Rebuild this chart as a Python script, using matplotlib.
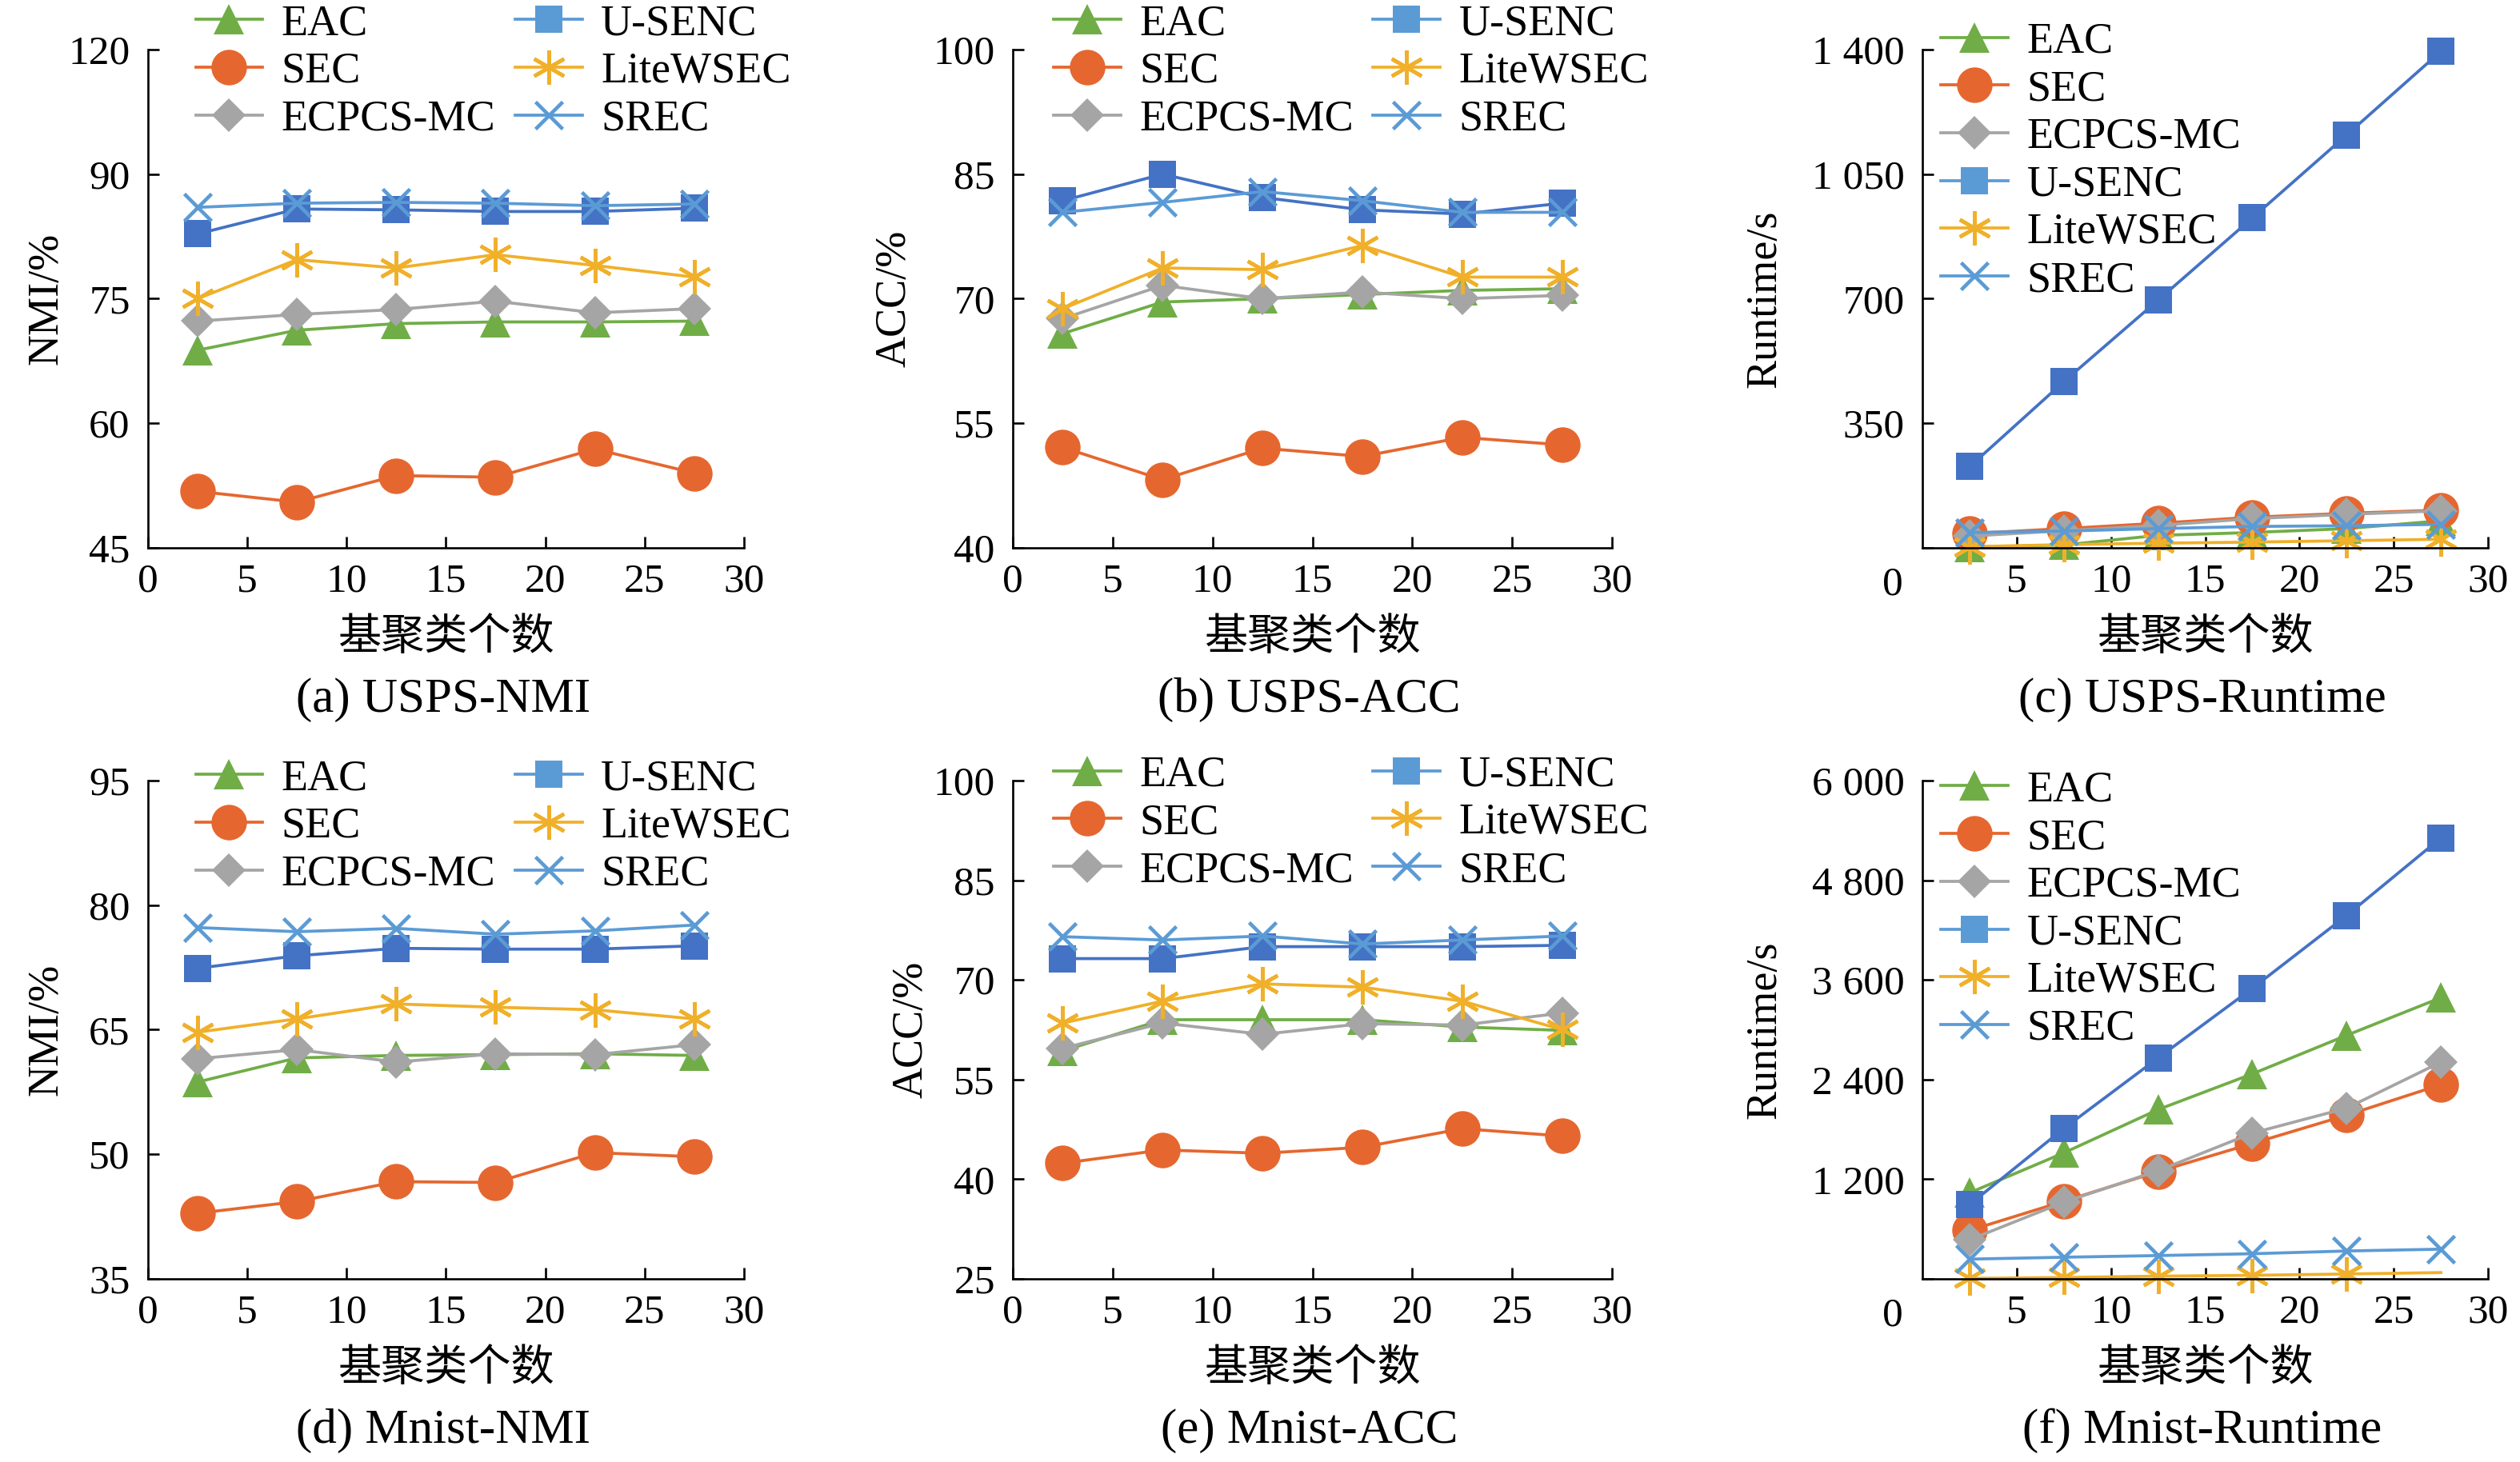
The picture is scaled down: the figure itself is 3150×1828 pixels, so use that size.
import matplotlib
matplotlib.use("Agg")
import matplotlib.pyplot as plt
from matplotlib.lines import Line2D

plt.rcParams['font.family'] = ['Liberation Serif', 'Noto Sans CJK SC']
plt.rcParams['axes.unicode_minus'] = False

# number of base clusterings (points sit between the ticks)
n_base = [2.5, 7.5, 12.5, 17.5, 22.5, 27.5]

methods = ["EAC", "SEC", "ECPCS-MC", "U-SENC", "LiteWSEC", "SREC"]

# (a) USPS NMI
usps_nmi_eac = [68.8, 71.2, 72.0, 72.2, 72.2, 72.3]
usps_nmi_sec = [51.8, 50.5, 53.7, 53.5, 56.9, 54.0]
usps_nmi_ecpcs = [72.3, 73.1, 73.7, 74.7, 73.3, 73.8]
usps_nmi_usenc = [82.8, 85.8, 85.7, 85.5, 85.5, 85.9]
usps_nmi_lite = [75.0, 79.7, 78.7, 80.3, 79.0, 77.6]
usps_nmi_srec = [86.0, 86.5, 86.6, 86.5, 86.2, 86.4]

# (b) USPS ACC
usps_acc_eac = [65.8, 69.6, 70.0, 70.5, 71.0, 71.2]
usps_acc_sec = [52.1, 48.2, 52.0, 51.0, 53.3, 52.4]
usps_acc_ecpcs = [67.6, 71.6, 70.0, 70.8, 70.0, 70.4]
usps_acc_usenc = [81.8, 85.0, 82.2, 80.7, 80.2, 81.5]
usps_acc_lite = [68.8, 73.7, 73.5, 76.4, 72.6, 72.6]
usps_acc_srec = [80.4, 81.6, 82.9, 81.8, 80.4, 80.4]

# (c) USPS runtime, s
usps_rt_eac = [2, 8, 35, 43, 54, 76]
usps_rt_sec = [40, 54, 69, 86, 97, 106]
usps_rt_ecpcs = [33, 48, 63, 82, 94, 104]
usps_rt_usenc = [228, 467, 696, 927, 1160, 1395]
usps_rt_lite = [3, 9, 13, 16, 20, 24]
usps_rt_srec = [43, 47, 54, 60, 62, 66]

# (d) Mnist NMI
mnist_nmi_eac = [58.7, 61.6, 61.9, 62.0, 62.1, 61.9]
mnist_nmi_sec = [42.9, 44.3, 46.7, 46.6, 50.2, 49.7]
mnist_nmi_ecpcs = [61.5, 62.6, 61.1, 62.1, 62.0, 63.2]
mnist_nmi_usenc = [72.4, 73.9, 74.8, 74.7, 74.7, 75.1]
mnist_nmi_lite = [64.7, 66.3, 68.1, 67.7, 67.4, 66.3]
mnist_nmi_srec = [77.3, 76.8, 77.2, 76.5, 76.9, 77.6]

# (e) Mnist ACC
mnist_acc_eac = [59.3, 64.0, 64.0, 64.0, 62.9, 62.4]
mnist_acc_sec = [42.4, 44.4, 43.9, 44.8, 47.6, 46.5]
mnist_acc_ecpcs = [59.7, 63.5, 61.8, 63.4, 63.2, 65.0]
mnist_acc_usenc = [73.2, 73.2, 75.0, 75.0, 75.0, 75.2]
mnist_acc_lite = [63.5, 66.8, 69.4, 68.9, 66.8, 62.5]
mnist_acc_srec = [76.5, 76.0, 76.6, 75.4, 76.0, 76.6]

# (f) Mnist runtime, s
mnist_rt_eac = [1036, 1517, 2038, 2468, 2932, 3385]
mnist_rt_sec = [583, 934, 1291, 1630, 1970, 2338]
mnist_rt_ecpcs = [470, 923, 1302, 1755, 2055, 2609]
mnist_rt_usenc = [894, 1811, 2660, 3498, 4375, 5309]
mnist_rt_lite = [5, 16, 32, 42, 58, 75]
mnist_rt_srec = [237, 260, 280, 302, 335, 357]

# the top tick of (a) is printed as "120" in the original figure
usps_nmi_ticks = [45, 60, 75, 90, 105]
usps_nmi_labels = ["45", "60", "75", "90", "120"]
usps_acc_ticks = [40, 55, 70, 85, 100]
usps_rt_ticks = [0, 350, 700, 1050, 1400]
usps_rt_labels = ["", "350", "700", "1 050", "1 400"]
mnist_nmi_ticks = [35, 50, 65, 80, 95]
mnist_acc_ticks = [25, 40, 55, 70, 85, 100]
mnist_rt_ticks = [0, 1200, 2400, 3600, 4800, 6000]
mnist_rt_labels = ["", "1 200", "2 400", "3 600", "4 800", "6 000"]

COLORS = ["#70AD47", "#E5672F", "#A5A5A5", "#4472C4", "#F0B02A", "#5B9BD5"]
LEGEND_COLORS = ["#70AD47", "#E5672F", "#A5A5A5", "#5B9BD5", "#F0B02A", "#5B9BD5"]
MARKERS = ["^", "o", "D", "s", (6, 2, 0), "x"]
MSIZES = [28, 32, 21, 24, 31, 25]

FS_TICK = 37
FS_TEXT = 39
FS_CAP = 44
LW = 2.7

fig = plt.figure(figsize=(31.5, 18.28), dpi=100)


def draw_panel(rect, series, ylim, yticks, ylabels, ylabel, caption,
               leg_xy, leg_ncol, ylab_x, runtime=False, lite_markevery=None):
    ax = fig.add_axes(rect)
    for i, ys in enumerate(series):
        me = None
        if i == 4 and lite_markevery is not None:
            me = lite_markevery
        ax.plot(n_base, ys, color=COLORS[i], lw=LW, marker=MARKERS[i],
                markersize=MSIZES[i], markeredgewidth=3.3 if i >= 4 else 0,
                markeredgecolor=COLORS[i], clip_on=False, markevery=me)

    ax.set_xlim(0, 30)
    ax.set_ylim(*ylim)
    if runtime:
        ax.set_xticks([5, 10, 15, 20, 25, 30])
        ax.annotate("0", xy=(0, 0), xycoords=("axes fraction", "data"),
                    xytext=(-27, -33), textcoords="offset points",
                    ha="center", va="center", fontsize=FS_TICK)
    else:
        ax.set_xticks([0, 5, 10, 15, 20, 25, 30])
    ax.set_yticks(yticks)
    if ylabels is not None:
        ax.set_yticklabels(ylabels)

    for s in ["top", "right"]:
        ax.spines[s].set_visible(False)
    for s in ["left", "bottom"]:
        ax.spines[s].set_linewidth(1.9)
    ax.tick_params(axis="both", direction="in", length=10, width=1.9,
                   labelsize=FS_TICK)
    ax.tick_params(axis="x", pad=14)
    ax.tick_params(axis="y", pad=16)

    ax.set_ylabel(ylabel, fontsize=FS_TEXT)
    ax.yaxis.set_label_coords(ylab_x, 0.5)
    ax.set_xlabel("基聚类个数", fontsize=FS_TEXT, va="center",
                  family=["Noto Sans CJK SC"])
    ax.xaxis.set_label_coords(0.5, -0.18)
    ax.text(0.495, -0.305, caption, transform=ax.transAxes,
            ha="center", va="center", fontsize=FS_CAP)

    handles = [
        Line2D([], [], color=LEGEND_COLORS[i], lw=LW, marker=MARKERS[i],
               markersize=MSIZES[i], markeredgewidth=3.3 if i >= 4 else 0,
               markeredgecolor=LEGEND_COLORS[i])
        for i in range(len(methods))
    ]
    ax.legend(handles, methods, loc="upper left", bbox_to_anchor=leg_xy,
              ncol=leg_ncol, frameon=False, fontsize=FS_TEXT,
              borderpad=0, borderaxespad=0, handlelength=1.55,
              handletextpad=0.43, columnspacing=0.45, labelspacing=0.17)
    return ax


top_b, bot_b, h = 0.6253, 0.1253, 0.3408

draw_panel([0.0587, top_b, 0.2365, h],
           [usps_nmi_eac, usps_nmi_sec, usps_nmi_ecpcs, usps_nmi_usenc,
            usps_nmi_lite, usps_nmi_srec],
           (45, 105), usps_nmi_ticks, usps_nmi_labels, "NMI/%",
           "(a) USPS-NMI", (0.08, 1.092), 2, -0.136)

draw_panel([0.4019, top_b, 0.2378, h],
           [usps_acc_eac, usps_acc_sec, usps_acc_ecpcs, usps_acc_usenc,
            usps_acc_lite, usps_acc_srec],
           (40, 100), usps_acc_ticks, None, "ACC/%", "(b) USPS-ACC",
           (0.068, 1.092), 2, -0.163)

draw_panel([0.7629, top_b, 0.2244, h],
           [usps_rt_eac, usps_rt_sec, usps_rt_ecpcs, usps_rt_usenc,
            usps_rt_lite, usps_rt_srec],
           (0, 1400), usps_rt_ticks, usps_rt_labels, "Runtime/s",
           "(c) USPS-Runtime", (0.033, 1.056), 1, -0.243, runtime=True)

draw_panel([0.0587, bot_b, 0.2365, h],
           [mnist_nmi_eac, mnist_nmi_sec, mnist_nmi_ecpcs, mnist_nmi_usenc,
            mnist_nmi_lite, mnist_nmi_srec],
           (35, 95), mnist_nmi_ticks, None, "NMI/%", "(d) Mnist-NMI",
           (0.08, 1.044), 2, -0.136)

draw_panel([0.4019, bot_b, 0.2378, h],
           [mnist_acc_eac, mnist_acc_sec, mnist_acc_ecpcs, mnist_acc_usenc,
            mnist_acc_lite, mnist_acc_srec],
           (25, 100), mnist_acc_ticks, None, "ACC/%", "(e) Mnist-ACC",
           (0.068, 1.051), 2, -0.136)

draw_panel([0.7629, bot_b, 0.2244, h],
           [mnist_rt_eac, mnist_rt_sec, mnist_rt_ecpcs, mnist_rt_usenc,
            mnist_rt_lite, mnist_rt_srec],
           (0, 6000), mnist_rt_ticks, mnist_rt_labels, "Runtime/s",
           "(f) Mnist-Runtime", (0.033, 1.021), 1, -0.243, runtime=True,
           lite_markevery=[0, 1, 2, 3, 4])

fig.savefig("out.png", dpi=100)
